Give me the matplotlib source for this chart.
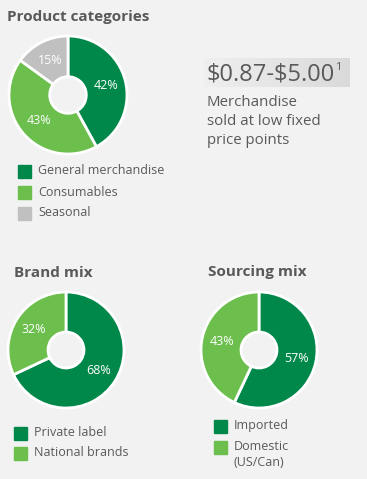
import numpy as np
import matplotlib.pyplot as plt
from matplotlib.colors import LinearSegmentedColormap

plt.rcParams['font.family'] = ['Open Sans', 'DejaVu Sans']

W, H = 367, 479
BG = "#f2f2f2"
DARK = "#00874a"
LIGHT = "#6cbf4c"
GRAY = "#c0c0c0"
TXT = "#595959"

# data
cat_labels = ["General merchandise", "Consumables", "Seasonal"]
cat_values = [42, 43, 15]
brand_labels = ["Private label", "National brands"]
brand_values = [68, 32]
source_labels = ["Imported", "Domestic", "(US/Can)"]
source_values = [57, 43]
price_range = r"\$0.87-\$5.00"
price_note = ["Merchandise", "sold at low fixed", "price points"]

fig = plt.figure(figsize=(W / 100, H / 100), dpi=100, facecolor=BG)


def px_axes(x, y, w, h):
    # axes placed in pixel coords, origin top-left
    return fig.add_axes([x / W, 1 - (y + h) / H, w / W, h / H])


def txt(x, y, s, **kw):
    kw.setdefault("color", TXT)
    kw.setdefault("va", "center")
    kw.setdefault("ha", "left")
    return fig.text(x / W, 1 - y / H, s, **kw)


def donut(cx, cy, r, values, colors):
    ax = px_axes(cx - r - 2, cy - r - 2, 2 * r + 4, 2 * r + 4)
    ax.pie(values, colors=colors, startangle=90, counterclock=False,
           radius=r / (r + 2),
           autopct=lambda p: f"{p:.0f}%", pctdistance=0.66,
           wedgeprops=dict(width=0.69 * r / (r + 2), edgecolor="white", linewidth=2),
           textprops=dict(color="white", fontsize=9))
    ax.set_xlim(-1, 1)
    ax.set_ylim(-1, 1)
    ax.set_aspect("equal")
    ax.axis("off")


def swatch(x, y, col):
    fig.patches.append(plt.Rectangle((x / W, 1 - (y + 7) / H), 13 / W, 13 / H,
                                     transform=fig.transFigure, color=col))


def legend(x, y0, labels, colors, dy):
    for i, (lab, col) in enumerate(zip(labels, colors)):
        swatch(x, y0 + i * dy, col)
        txt(x + 20, y0 + i * dy, lab, fontsize=9)


def title(x, y, s):
    txt(x, y, s, fontsize=11, fontweight="bold")


# Product categories
title(7, 17, "Product categories")
donut(68, 95, 59, cat_values, [DARK, LIGHT, GRAY])
legend(18, 171, cat_labels, [DARK, LIGHT, GRAY], 21)

# price box with soft gradient
bx = px_axes(204, 58, 146, 29)
grad = np.linspace(0, 1, 100).reshape(1, -1)
bx.imshow(grad, aspect="auto", extent=[0, 1, 0, 1],
          cmap=LinearSegmentedColormap.from_list("g", ["#efefef", "#dadada"]))
bx.axis("off")
t = txt(206, 74, price_range, fontsize=17)
fig.canvas.draw()
right = t.get_window_extent().x1
fig.text(right / (W) + 1 / W, 1 - 67 / H, "1", color=TXT, fontsize=8,
         va="center", ha="left")
for i, line in enumerate(price_note):
    txt(207, 102 + i * 19.5, line, fontsize=10.8)

# Brand mix
title(14, 273, "Brand mix")
donut(66, 350, 58, brand_values, [DARK, LIGHT])
legend(14, 433, brand_labels, [DARK, LIGHT], 20)

# Sourcing mix
title(208, 272, "Sourcing mix")
donut(259, 350, 58, source_values, [DARK, LIGHT])
swatch(214, 426, DARK)
txt(234, 426, source_labels[0], fontsize=9)
swatch(214, 447, LIGHT)
txt(234, 447, source_labels[1], fontsize=9)
txt(234, 462, source_labels[2], fontsize=9)

fig.savefig("out.png", dpi=100, facecolor=BG)
